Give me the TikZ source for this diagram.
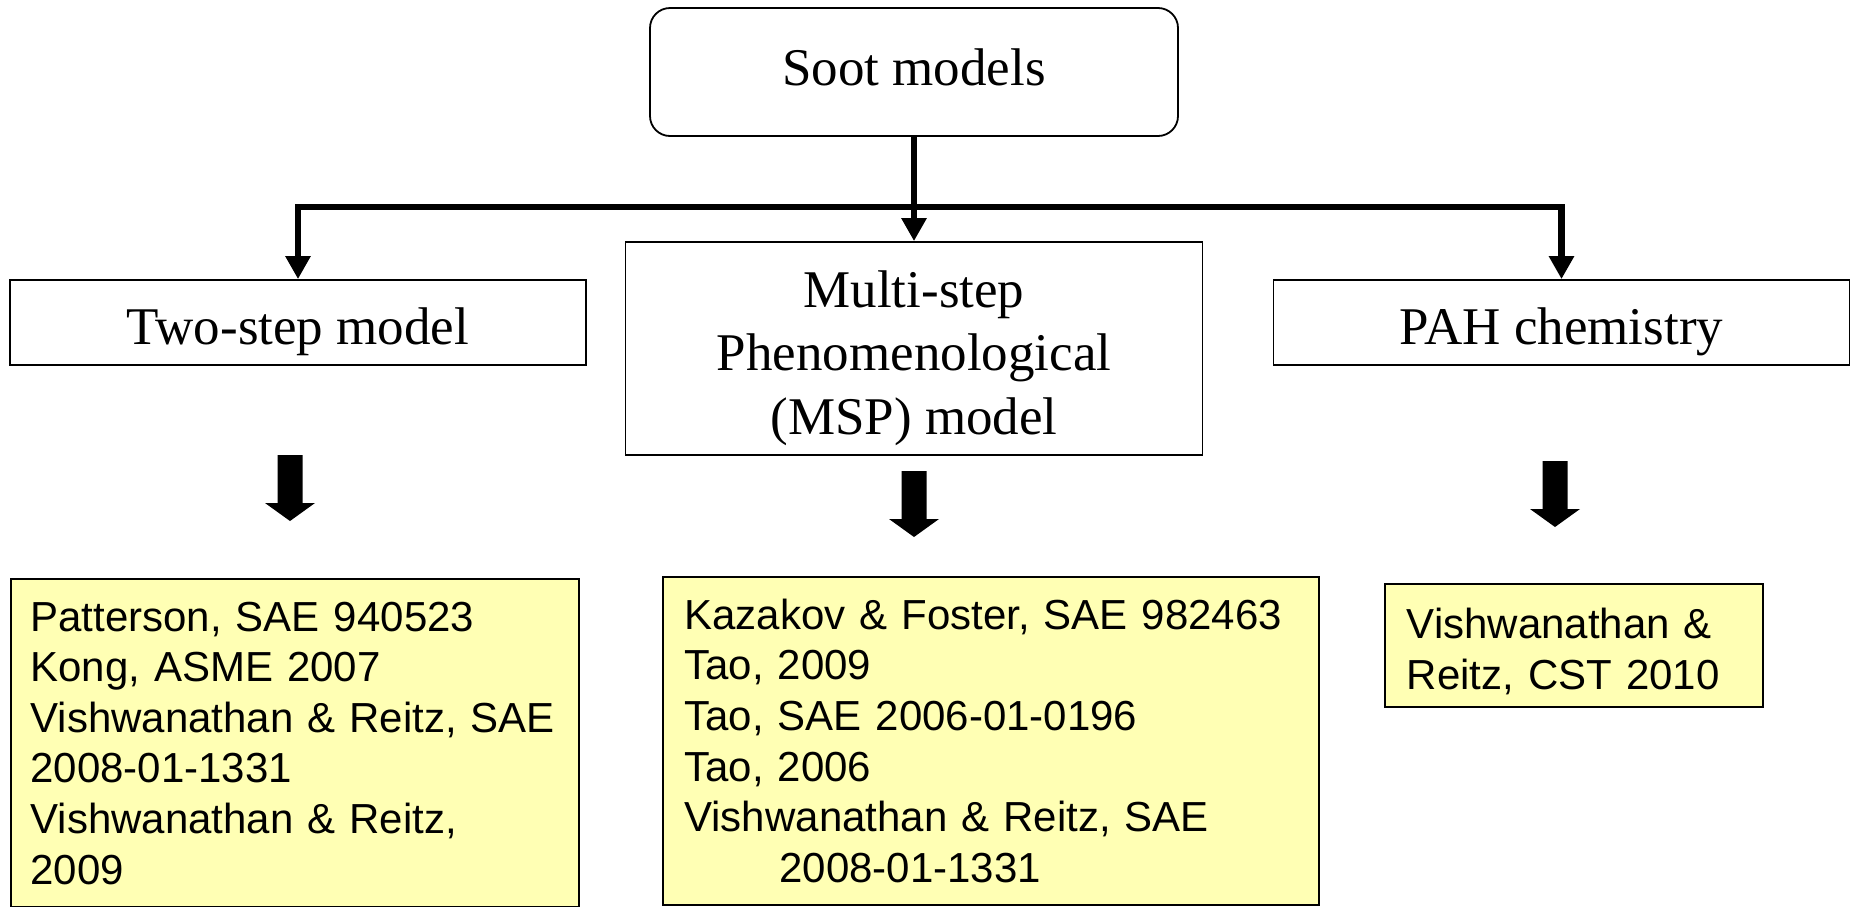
\documentclass[tikz,border=0pt]{standalone}
\usepackage{fontspec}
\setmainfont{Liberation Serif}
\newfontfamily\refsans{Liberation Sans}
\usetikzlibrary{positioning, arrows.meta}
\definecolor{refyellow}{RGB}{255,255,180}

\begin{document}
\begin{tikzpicture}[x=0.5pt,y=-0.5pt,
    model/.style={draw, line width=0.9pt, inner sep=0pt,
        font=\fontsize{26.5pt}{31.75pt}\selectfont, text height=27.6pt, text depth=5.75pt},
    refs/.style={draw, line width=0.9pt, fill=refyellow, anchor=north west, align=left,
        font=\refsans\fontsize{21pt}{25.3pt}\selectfont},
    conn/.style={line width=3.3pt, line join=miter, -{Triangle[length=11.5pt,width=12pt]}}]
    \clip (0,0) rectangle (1854,906);
    \fill[white] (0,0) rectangle (1854,906);
    % model classes
    \node[model, rounded corners=10pt, minimum width=264pt, minimum height=64pt,
        text height=18.1pt, text depth=5pt] (soot) at (914,72) {Soot models};
    \node[model, minimum width=288pt, minimum height=42.5pt] (twostep) at (298,322.5) {Two-step model};
    \node[draw, line width=0.9pt, inner sep=0pt, align=center, font=\fontsize{26.5pt}{31.75pt}\selectfont,
        minimum width=288.5pt, minimum height=106.5pt] (msp) at (914,348.5)
        {\rule{0pt}{28pt}Multi-step\\Phenomenological\\(MSP) model};
    \node[model, minimum width=288pt, minimum height=42.5pt] (pah) at (1561.5,322.5) {PAH chemistry};
    \coordinate (fork) at (914,207);
    \draw[conn] (soot) -- (msp);
    \draw[conn] (fork) -| (twostep.north);
    \draw[conn] (fork) -| (pah.north);
    % block arrows
    \foreach \x/\y in {290/455, 914/471, 1555/461} {
        \fill (\x-12.5,\y) -- (\x+12.5,\y) -- (\x+12.5,\y+48) -- (\x+25,\y+48) -- (\x,\y+66)
            -- (\x-25,\y+48) -- (\x-12.5,\y+48) -- cycle;
    }
    % references
    \node[refs, inner xsep=9.8pt, inner ysep=11.4pt, text width=264.4pt] (refstwo) at (10,578)
        {Patterson, SAE 940523\\Kong, ASME 2007\\Vishwanathan \& Reitz, SAE\\2008-01-1331\\Vishwanathan \& Reitz,\\2009};
    \node[refs, inner xsep=10.75pt, inner ysep=11pt, text width=306.5pt] (refsmsp) at (662,576)
        {Kazakov \& Foster, SAE 982463\\Tao, 2009\\Tao, SAE 2006-01-0196\\Tao, 2006\\Vishwanathan \& Reitz, SAE\\\hspace*{47.5pt}2008-01-1331};
    \node[refs, inner xsep=11pt, inner ysep=6pt, text width=167pt] (refspah) at (1384,583)
        {\rule{0pt}{21.5pt}Vishwanathan \&\\Reitz, CST 2010};
\end{tikzpicture}
\end{document}
